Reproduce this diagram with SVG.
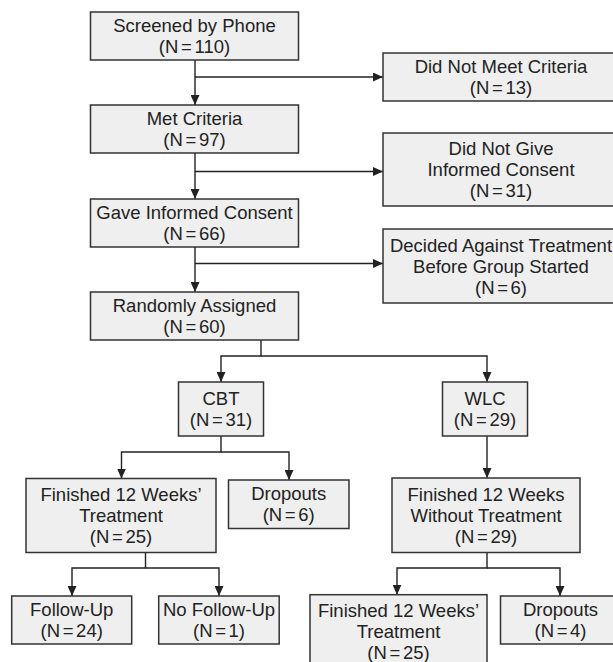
<svg xmlns="http://www.w3.org/2000/svg" width="613" height="662" viewBox="0 0 613 662">
<style>
.box rect{fill:#efefef;stroke:#333;stroke-width:1.5}
.box text{font-family:"Liberation Sans",Arial,sans-serif;font-size:18.5px;fill:#222;text-anchor:middle}
.box text.n{word-spacing:-2.5px}
#connectors path{fill:none;stroke:#222;stroke-width:1.4}
</style>
<defs>
<marker id="ah" markerUnits="userSpaceOnUse" markerWidth="10" markerHeight="9" refX="10" refY="4.5" orient="auto">
<path d="M0,0 L10,4.5 L0,9 z" fill="#222"/>
</marker>
</defs>
<rect width="613" height="662" fill="#fff"/>
<g id="connectors">
<path d="M195,60 V105" marker-end="url(#ah)"/>
<path d="M195,77 H383" marker-end="url(#ah)"/>
<path d="M195,153 V199" marker-end="url(#ah)"/>
<path d="M195,171.5 H383" marker-end="url(#ah)"/>
<path d="M195,247 V292" marker-end="url(#ah)"/>
<path d="M195,263.5 H383" marker-end="url(#ah)"/>
<path d="M261,340 V356 H221 V382" marker-end="url(#ah)"/>
<path d="M261,356 H487 V382" marker-end="url(#ah)"/>
<path d="M221,436 V452 H121.5 V478.5" marker-end="url(#ah)"/>
<path d="M221,452 H289 V480" marker-end="url(#ah)"/>
<path d="M487,436 V478" marker-end="url(#ah)"/>
<path d="M145.5,552.5 V568 H72 V596" marker-end="url(#ah)"/>
<path d="M145.5,568 H219 V596" marker-end="url(#ah)"/>
<path d="M487,552.5 V568 H397 V594.7" marker-end="url(#ah)"/>
<path d="M487,568 H560 V596" marker-end="url(#ah)"/>
</g>
<g id="screened" class="box">
<rect x="90.5" y="12" width="208" height="48"/>
<text x="194.5" y="32">Screened by Phone</text>
<text class="n" x="194.5" y="53">(N = 110)</text>
</g>
<g id="met" class="box">
<rect x="90.5" y="105" width="208" height="48"/>
<text x="194.5" y="125">Met Criteria</text>
<text class="n" x="194.5" y="146">(N = 97)</text>
</g>
<g id="gave" class="box">
<rect x="90.5" y="199" width="208" height="48"/>
<text x="194.5" y="219">Gave Informed Consent</text>
<text class="n" x="194.5" y="240">(N = 66)</text>
</g>
<g id="random" class="box">
<rect x="90.5" y="292" width="208" height="48"/>
<text x="194.5" y="312">Randomly Assigned</text>
<text class="n" x="194.5" y="333">(N = 60)</text>
</g>
<g id="notmeet" class="box">
<rect x="383" y="53" width="236" height="48"/>
<text x="501" y="73">Did Not Meet Criteria</text>
<text class="n" x="501" y="94">(N = 13)</text>
</g>
<g id="notconsent" class="box">
<rect x="383" y="133" width="236" height="73"/>
<text x="501" y="155">Did Not Give</text>
<text x="501" y="176">Informed Consent</text>
<text class="n" x="501" y="197">(N = 31)</text>
</g>
<g id="decided" class="box">
<rect x="383" y="229" width="236" height="74"/>
<text x="501" y="251.8">Decided Against Treatment</text>
<text x="501" y="272.8">Before Group Started</text>
<text class="n" x="501" y="293.8">(N = 6)</text>
</g>
<g id="cbt" class="box">
<rect x="178.5" y="382" width="85" height="54"/>
<text x="221" y="405">CBT</text>
<text class="n" x="221" y="426">(N = 31)</text>
</g>
<g id="wlc" class="box">
<rect x="442.5" y="382" width="85" height="54"/>
<text x="485" y="405">WLC</text>
<text class="n" x="485" y="426">(N = 29)</text>
</g>
<g id="cbtfinished" class="box">
<rect x="26" y="478.5" width="190" height="74"/>
<text x="121" y="501">Finished 12 Weeks’</text>
<text x="121" y="522">Treatment</text>
<text class="n" x="121" y="543">(N = 25)</text>
</g>
<g id="cbtdropouts" class="box">
<rect x="228.5" y="480" width="120.5" height="48.5"/>
<text x="288.7" y="500.3">Dropouts</text>
<text class="n" x="288.7" y="521.3">(N = 6)</text>
</g>
<g id="wlcfinished" class="box">
<rect x="392" y="478" width="188" height="74.5"/>
<text x="486" y="501">Finished 12 Weeks</text>
<text x="486" y="522">Without Treatment</text>
<text class="n" x="486" y="543">(N = 29)</text>
</g>
<g id="followup" class="box">
<rect x="11.7" y="596" width="120" height="48"/>
<text x="71.7" y="616">Follow-Up</text>
<text class="n" x="71.7" y="637">(N = 24)</text>
</g>
<g id="nofollowup" class="box">
<rect x="158.7" y="596" width="120.5" height="48"/>
<text x="219" y="616">No Follow-Up</text>
<text class="n" x="219" y="637">(N = 1)</text>
</g>
<g id="wlctreated" class="box">
<rect x="310" y="594.7" width="177" height="74"/>
<text x="398.5" y="617.3">Finished 12 Weeks’</text>
<text x="398.5" y="638.3">Treatment</text>
<text class="n" x="398.5" y="659.3">(N = 25)</text>
</g>
<g id="wlcdropouts" class="box">
<rect x="500.5" y="596" width="120" height="48"/>
<text x="560.5" y="616">Dropouts</text>
<text class="n" x="560.5" y="637">(N = 4)</text>
</g>
</svg>
